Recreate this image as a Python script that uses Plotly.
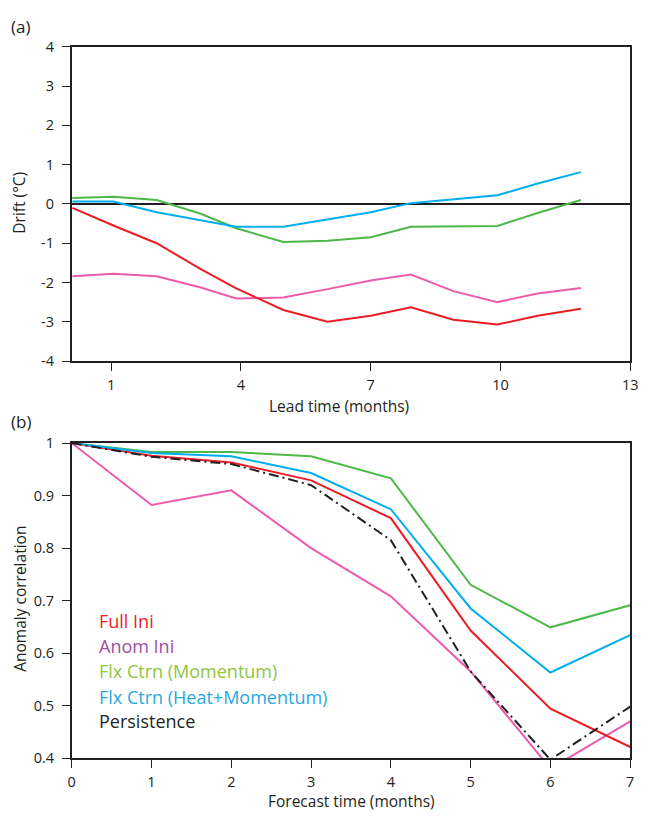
import plotly.graph_objects as go

# ---------------- Panel (a): drift ----------------
lead_months = [0.1, 1.05, 2.05, 3.07, 3.89, 4.98, 6.0, 7.0, 7.93, 8.91, 9.93, 10.86, 11.86]
drift_full_ini = [-0.10, -0.55, -1.00, -1.66, -2.15, -2.70, -3.00, -2.85, -2.63, -2.95, -3.07, -2.85, -2.67]
drift_anom_ini = [-1.84, -1.78, -1.84, -2.13, -2.41, -2.38, -2.17, -1.95, -1.80, -2.22, -2.50, -2.28, -2.14]
drift_flx_mom = [0.15, 0.18, 0.10, -0.25, -0.62, -0.97, -0.94, -0.85, -0.58, -0.57, -0.56, -0.23, 0.10]
drift_flx_heat_mom = [0.06, 0.06, -0.21, -0.42, -0.58, -0.58, -0.40, -0.21, 0.02, 0.12, 0.22, 0.52, 0.81]
a_xticks = [1, 4, 7, 10, 13]
a_yticks = [-4, -3, -2, -1, 0, 1, 2, 3, 4]
a_yticktext = ["-4", "-3", "-2", "-1", "0", "1", "2", "3", "4"]

# ---------------- Panel (b): anomaly correlation ----------------
forecast_months = [0, 1, 2, 3, 4, 5, 6, 7]
acc_full_ini = [1.0, 0.976, 0.963, 0.929, 0.857, 0.643, 0.494, 0.421]
acc_anom_ini = [1.0, 0.882, 0.910, 0.800, 0.708, 0.565, 0.380, 0.470]
acc_flx_mom = [1.0, 0.983, 0.983, 0.975, 0.933, 0.730, 0.649, 0.691]
acc_flx_heat_mom = [1.0, 0.981, 0.975, 0.943, 0.874, 0.685, 0.563, 0.634]
acc_persistence = [1.0, 0.974, 0.960, 0.920, 0.815, 0.565, 0.397, 0.498]
b_yticks = [0.4, 0.5, 0.6, 0.7, 0.8, 0.9, 1.0]
b_yticktext = ["0.4", "0.5", "0.6", "0.7", "0.8", "0.9", "1"]

legend_labels = ["Full Ini", "Anom Ini", "Flx Ctrn (Momentum)", "Flx Ctrn (Heat+Momentum)", "Persistence"]

RED = "#ED1C24"
PINK = "#EE5BA9"
GREEN = "#4DB848"
BLUE = "#00AEEF"
BLACK = "#231F20"
LEG_COLORS = ["#ED1C24", "#A04EA2", "#8DC63F", "#27AAE1", "#231F20"]

FONT = "Open Sans"
W, H = 648, 824
TICK_SIZE = 14.5
TITLE_SIZE = 15.5

def px_x(p):
    return p / W

def px_y(p):
    return 1 - p / H

fig = go.Figure()

lw = 2
for ys, c in [(drift_anom_ini, PINK), (drift_full_ini, RED), (drift_flx_mom, GREEN), (drift_flx_heat_mom, BLUE)]:
    fig.add_trace(go.Scatter(x=lead_months, y=ys, mode="lines", line=dict(color=c, width=lw),
                             xaxis="x", yaxis="y", showlegend=False, hoverinfo="skip"))

for ys, c, dash in [(acc_anom_ini, PINK, "solid"), (acc_full_ini, RED, "solid"),
                    (acc_flx_mom, GREEN, "solid"), (acc_flx_heat_mom, BLUE, "solid"),
                    (acc_persistence, BLACK, "10px,4px,2px,4px")]:
    fig.add_trace(go.Scatter(x=forecast_months, y=ys, mode="lines", line=dict(color=c, width=lw, dash=dash),
                             xaxis="x2", yaxis="y2", showlegend=False, hoverinfo="skip"))

xdom = [px_x(69), px_x(638)]
axis_common = dict(showline=True, linecolor=BLACK, linewidth=1.5, mirror=True, showgrid=False,
                   ticks="outside", ticklen=8, tickwidth=1.3, tickcolor=BLACK,
                   tickfont=dict(family=FONT, size=TICK_SIZE, color=BLACK))

fig.update_layout(
    width=W, height=H,
    margin=dict(l=0, r=0, t=0, b=0),
    paper_bgcolor="white", plot_bgcolor="white",
    font=dict(family=FONT, color=BLACK),
    xaxis=dict(domain=xdom, anchor="y", range=[0.086, 13], tickvals=a_xticks, zeroline=False,
               ticklabelstandoff=2, **axis_common),
    yaxis=dict(domain=[px_y(359.3), px_y(37.7)], anchor="x", range=[-4, 4], tickvals=a_yticks,
               ticktext=a_yticktext, zeroline=True, zerolinecolor=BLACK, zerolinewidth=1.5,
               ticklabelstandoff=5, **axis_common),
    xaxis2=dict(domain=xdom, anchor="y2", range=[0, 7], tickvals=forecast_months, zeroline=False,
                ticklabelstandoff=2, **axis_common),
    yaxis2=dict(domain=[px_y(765.7), px_y(443.3)], anchor="x2", range=[0.4, 1.0], tickvals=b_yticks,
                ticktext=b_yticktext, zeroline=False, ticklabelstandoff=5, **axis_common),
)

ann = []
# panel labels
ann.append(dict(text="(a)", x=px_x(5), y=px_y(17), xanchor="left", yanchor="middle", showarrow=False,
                xref="paper", yref="paper", font=dict(family=FONT, size=17, color=BLACK)))
ann.append(dict(text="(b)", x=px_x(5), y=px_y(421), xanchor="left", yanchor="middle", showarrow=False,
                xref="paper", yref="paper", font=dict(family=FONT, size=17, color=BLACK)))
# axis titles
ann.append(dict(text="Lead time (months)", x=px_x(341), y=px_y(405), xanchor="center", yanchor="middle",
                showarrow=False, xref="paper", yref="paper", font=dict(family=FONT, size=TITLE_SIZE, color=BLACK)))
ann.append(dict(text="Forecast time (months)", x=px_x(354), y=px_y(810), xanchor="center", yanchor="middle",
                showarrow=False, xref="paper", yref="paper", font=dict(family=FONT, size=TITLE_SIZE, color=BLACK)))
ann.append(dict(text="Drift (°C)", x=px_x(15), y=px_y(197.5), xanchor="center", yanchor="middle", textangle=-90,
                showarrow=False, xref="paper", yref="paper", font=dict(family=FONT, size=TITLE_SIZE, color=BLACK)))
ann.append(dict(text="Anomaly correlation", x=px_x(16), y=px_y(603), xanchor="center", yanchor="middle",
                textangle=-90, showarrow=False, xref="paper", yref="paper",
                font=dict(family=FONT, size=TITLE_SIZE, color=BLACK)))
# legend texts
leg_y = [625, 651, 677, 703, 728]
for lab, c, yy in zip(legend_labels, LEG_COLORS, leg_y):
    ann.append(dict(text=lab, x=px_x(95), y=px_y(yy), xanchor="left", yanchor="middle", showarrow=False,
                    xref="paper", yref="paper", font=dict(family=FONT, size=18, color=c)))

fig.update_layout(annotations=ann)

fig.write_html("out.html",
               post_script="document.body.style.margin='0';document.body.style.overflow='hidden';"
                           "document.documentElement.style.overflow='hidden';")
